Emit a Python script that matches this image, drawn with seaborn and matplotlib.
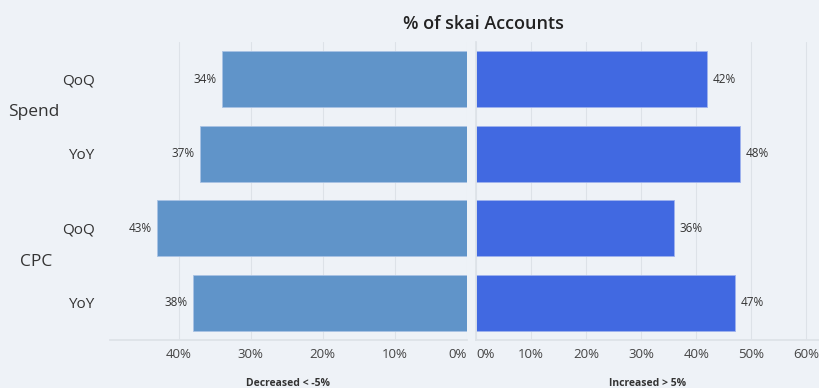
import matplotlib
matplotlib.use("Agg")
import matplotlib.pyplot as plt
import seaborn as sns
import pandas as pd
from matplotlib.ticker import FuncFormatter

rows = ["Spend QoQ", "Spend YoY", "CPC QoQ", "CPC YoY"]
periods = ["QoQ", "YoY", "QoQ", "YoY"]
groups = ["Spend", "CPC"]
decreased = [34, 37, 43, 38]
increased = [42, 48, 36, 47]
left_ticks = [0, 10, 20, 30, 40]
right_ticks = [0, 10, 20, 30, 40, 50, 60]

bg = "#eef2f7"
sns.set_theme(style="white")
plt.rcParams["font.family"] = ["Open Sans", "DejaVu Sans"]

df = pd.DataFrame({"row": rows, "dec": decreased, "inc": increased})

fig = plt.figure(figsize=(8.2, 3.88), dpi=100, facecolor=bg)
axL = fig.add_axes([110/820, 1-340/388, (467-110)/820, (340-42)/388])
axR = fig.add_axes([476/820, 1-340/388, (820-476)/820, (340-42)/388])

sns.barplot(data=df, y="row", x="dec", ax=axL, color="#6094c9", width=0.75,
            saturation=1, orient="h", edgecolor="#a9c3e4", linewidth=0.6)
sns.barplot(data=df, y="row", x="inc", ax=axR, color="#4169e1", width=0.75,
            saturation=1, orient="h", edgecolor="#9fb2ee", linewidth=0.6)

pct = FuncFormatter(lambda v, p: f"{int(round(v))}%")
axL.set_xlim(49.5, 0)
axR.set_xlim(0, 62.5)
axL.set_xticks(left_ticks)
axR.set_xticks(right_ticks)
for ax in (axL, axR):
    ax.set_facecolor(bg)
    ax.set_ylim(3.5, -0.5)
    ax.xaxis.set_major_formatter(pct)
    ax.grid(axis="x", color="#dde2e8", linewidth=0.8)
    ax.set_axisbelow(True)
    for s in ax.spines.values():
        s.set_visible(False)
    ax.spines["bottom"].set_visible(True)
    ax.spines["bottom"].set_color("#dde2e8")
    ax.tick_params(axis="x", labelsize=9.5, colors="#444444", length=0, pad=6)
    ax.set_ylabel("")

fig.canvas.draw()
axL.get_xticklabels()[0].set_ha("right")
axR.get_xticklabels()[0].set_ha("left")

axR.spines["left"].set_visible(True)
axR.spines["left"].set_color("#dde2e8")
axR.set_yticks([])
axL.set_yticks(range(len(rows)))
axL.set_yticklabels(periods, fontsize=11, color="#333333")
axL.tick_params(axis="y", length=0, pad=11)

axL.set_xlabel("Decreased < -5%", fontsize=7.5, fontweight="bold", color="#333333", labelpad=12)
axR.set_xlabel("Increased > 5%", fontsize=7.5, fontweight="bold", color="#333333", labelpad=12)

for c in axL.containers:
    axL.bar_label(c, labels=[f"{v}%" for v in decreased], padding=4, fontsize=8.5, color="#333333")
for c in axR.containers:
    axR.bar_label(c, labels=[f"{v}%" for v in increased], padding=4, fontsize=8.5, color="#333333")

fig.text(8/820, 1-112/388, groups[0], fontsize=12.5, color="#333333", va="center", ha="left")
fig.text(20/820, 1-262/388, groups[1], fontsize=12.5, color="#333333", va="center", ha="left")
fig.text(483/820, 1-24/388, "% of skai Accounts", fontsize=13, fontweight="semibold",
         color="#222222", ha="center", va="center")

fig.savefig("out.png", dpi=100, facecolor=bg)
